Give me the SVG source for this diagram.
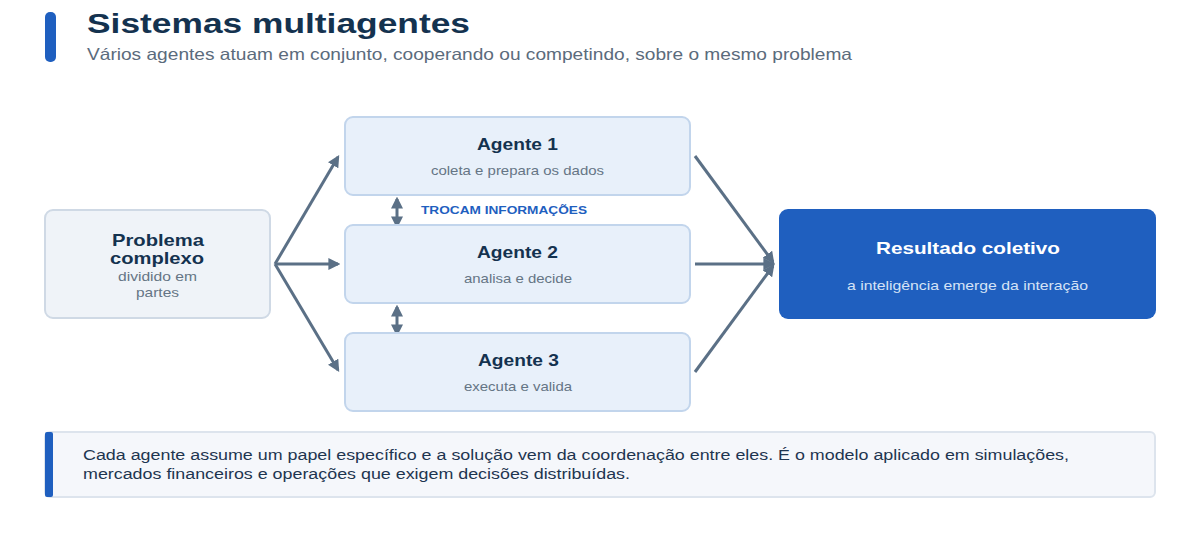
<svg xmlns="http://www.w3.org/2000/svg" width="1200" height="540" viewBox="0 0 1200 540">
<defs>
<style>
text{font-family:"Liberation Sans",Arial,sans-serif}
.ttl{font-size:28px;font-weight:bold;fill:#14324f}
.sub{font-size:16.5px;fill:#5b6b7c}
.box{fill:#e8f0fa;stroke:#c2d5ec;stroke-width:2}
.prob{fill:#eff3f8;stroke:#cfd9e5;stroke-width:2}
.h{font-size:17px;font-weight:bold;fill:#14324f;text-anchor:middle}
.d{font-size:13px;fill:#657585;text-anchor:middle}
.conn{stroke:#5b7086;stroke-width:3;fill:none}
.note{font-size:15.5px;fill:#1e3550}
</style>
<marker id="ah" viewBox="0 0 10 10" refX="8" refY="5" markerWidth="4" markerHeight="4" orient="auto-start-reverse" markerUnits="strokeWidth">
<path d="M0,0 L10,5 L0,10 z" fill="#5b7086"/>
</marker>
</defs>
<rect width="1200" height="540" fill="#ffffff"/>
<g id="header">
<rect x="45" y="12" width="11" height="50" rx="5" fill="#1f5fbf"/>
<text class="ttl" x="87" y="33" textLength="383" lengthAdjust="spacingAndGlyphs">Sistemas multiagentes</text>
<text class="sub" x="87" y="60" textLength="765" lengthAdjust="spacingAndGlyphs">Vários agentes atuam em conjunto, cooperando ou competindo, sobre o mesmo problema</text>
</g>
<g id="connectors">
<line class="conn" x1="275" y1="264" x2="338" y2="157" marker-end="url(#ah)"/>
<line class="conn" x1="275" y1="264" x2="338" y2="264" marker-end="url(#ah)"/>
<line class="conn" x1="275" y1="264" x2="338" y2="370" marker-end="url(#ah)"/>
<line class="conn" x1="695" y1="156" x2="773" y2="262" marker-end="url(#ah)"/>
<line class="conn" x1="695" y1="264" x2="773" y2="264" marker-end="url(#ah)"/>
<line class="conn" x1="695" y1="372" x2="773" y2="266" marker-end="url(#ah)"/>
<line class="conn" x1="397" y1="199" x2="397" y2="226" stroke-width="2.5" marker-start="url(#ah)" marker-end="url(#ah)"/>
<line class="conn" x1="397" y1="307" x2="397" y2="334" stroke-width="2.5" marker-start="url(#ah)" marker-end="url(#ah)"/>
<text x="421" y="214" font-size="11.5" font-weight="bold" fill="#1f5fbf" textLength="166" lengthAdjust="spacingAndGlyphs">TROCAM INFORMAÇÕES</text>
</g>
<g id="problema">
<rect class="prob" x="45" y="210" width="225" height="108" rx="8"/>
<text class="h" x="158" y="246" textLength="92" lengthAdjust="spacingAndGlyphs">Problema</text>
<text class="h" x="157" y="264" textLength="94" lengthAdjust="spacingAndGlyphs">complexo</text>
<text class="d" x="157.5" y="281" textLength="79" lengthAdjust="spacingAndGlyphs">dividido em</text>
<text class="d" x="157.5" y="297" textLength="43" lengthAdjust="spacingAndGlyphs">partes</text>
</g>
<g id="agente1">
<rect class="box" x="345" y="117" width="345" height="78" rx="8"/>
<text class="h" x="517.5" y="150" textLength="81" lengthAdjust="spacingAndGlyphs">Agente 1</text>
<text class="d" x="517.5" y="175" textLength="173" lengthAdjust="spacingAndGlyphs">coleta e prepara os dados</text>
</g>
<g id="agente2">
<rect class="box" x="345" y="225" width="345" height="78" rx="8"/>
<text class="h" x="517.5" y="258" textLength="81" lengthAdjust="spacingAndGlyphs">Agente 2</text>
<text class="d" x="518" y="283" textLength="108" lengthAdjust="spacingAndGlyphs">analisa e decide</text>
</g>
<g id="agente3">
<rect class="box" x="345" y="333" width="345" height="78" rx="8"/>
<text class="h" x="518.5" y="366" textLength="81" lengthAdjust="spacingAndGlyphs">Agente 3</text>
<text class="d" x="518" y="391" textLength="108" lengthAdjust="spacingAndGlyphs">executa e valida</text>
</g>
<g id="resultado">
<rect x="779" y="209" width="377" height="110" rx="9" fill="#1f5fbf"/>
<text class="h" x="968" y="254" style="fill:#ffffff" textLength="184" lengthAdjust="spacingAndGlyphs">Resultado coletivo</text>
<text class="d" x="967.5" y="290" style="fill:#d5e3f6" textLength="241" lengthAdjust="spacingAndGlyphs">a inteligência emerge da interação</text>
</g>
<g id="nota">
<rect x="45" y="432" width="1110" height="65" rx="5" fill="#f5f7fb" stroke="#dde4ed" stroke-width="2"/>
<rect x="45" y="432" width="8" height="65" rx="2" fill="#1f5fbf"/>
<text class="note" x="83" y="460" textLength="986" lengthAdjust="spacingAndGlyphs">Cada agente assume um papel específico e a solução vem da coordenação entre eles. É o modelo aplicado em simulações,</text>
<text class="note" x="83" y="479" textLength="547" lengthAdjust="spacingAndGlyphs">mercados financeiros e operações que exigem decisões distribuídas.</text>
</g>
</svg>
